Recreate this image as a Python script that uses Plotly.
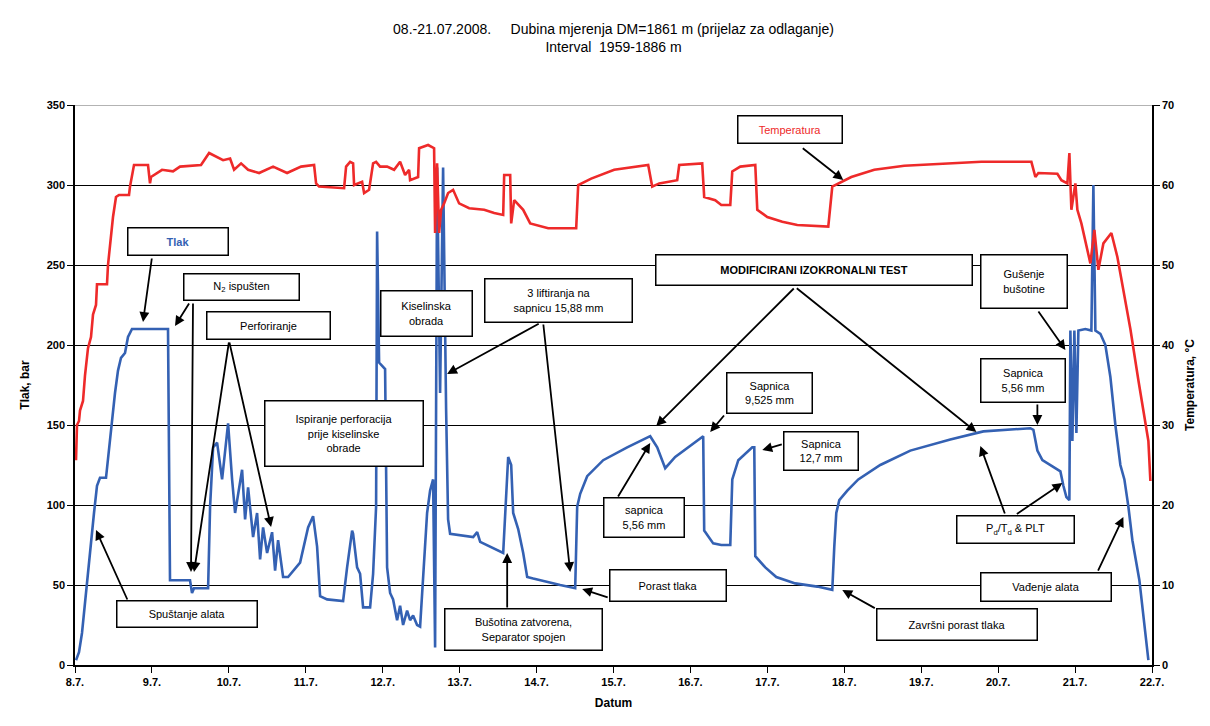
import plotly.graph_objects as go

# ---- data: time in days since 8.7.2008 00:00 ----
datum_oznake = ["8.7.", "9.7.", "10.7.", "11.7.", "12.7.", "13.7.", "14.7.", "15.7.",
                "16.7.", "17.7.", "18.7.", "19.7.", "20.7.", "21.7.", "22.7."]

tlak_dan = [0.013, 0.052, 0.091, 0.130, 0.169, 0.208, 0.247, 0.286, 0.325, 0.403, 0.442, 0.481,
            0.520, 0.559, 0.598, 0.650, 0.689, 0.741, 1.209, 1.235, 1.495, 1.521, 1.547, 1.730,
            1.756, 1.795, 1.847, 1.912, 1.990, 2.042, 2.081, 2.172, 2.211, 2.250, 2.315, 2.367,
            2.406, 2.445, 2.497, 2.562, 2.601, 2.640, 2.705, 2.770, 2.926, 3.030, 3.095, 3.147,
            3.186, 3.277, 3.485, 3.537, 3.602, 3.615, 3.667, 3.706, 3.745, 3.836, 3.875, 3.914,
            3.927, 3.953, 4.031, 4.057, 4.096, 4.135, 4.187, 4.226, 4.265, 4.317, 4.356, 4.395,
            4.447, 4.486, 4.577, 4.616, 4.655, 4.681, 4.707, 4.746, 4.785, 4.824, 4.850, 4.876,
            5.176, 5.228, 5.267, 5.566, 5.605, 5.631, 5.670, 5.696, 5.761, 5.826, 5.878, 5.956,
            6.307, 6.502, 6.528, 6.567, 6.658, 6.866, 7.178, 7.477, 7.568, 7.672, 7.802, 7.997,
            8.166, 8.179, 8.296, 8.401, 8.518, 8.544, 8.622, 8.804, 8.830, 8.843, 8.973, 9.116,
            9.363, 9.649, 9.844, 9.870, 9.896, 9.935, 10.039, 10.182, 10.468, 10.858, 11.378,
            11.808, 12.419, 12.458, 12.510, 12.575, 12.705, 12.809, 12.848, 12.887, 12.926,
            12.939, 12.965, 12.991, 13.017, 13.043, 13.134, 13.212, 13.238, 13.264, 13.329,
            13.394, 13.459, 13.524, 13.589, 13.641, 13.693, 13.745, 13.836, 13.914, 13.953]
tlak_bar = [3, 8, 20, 40, 60, 78, 95, 112, 117, 117, 135, 155,
            170, 184, 192, 195, 205, 210, 210, 53, 53, 45, 48, 48,
            99, 136, 139, 116, 151, 116, 95, 122, 91, 111, 80, 95,
            66, 86, 70, 83, 59, 78, 55, 55, 64, 86, 93, 74,
            43, 41, 40, 61, 84, 82, 61, 57, 36, 36, 57, 99,
            271, 189, 185, 61, 45, 41, 28, 37, 25, 34, 28, 31,
            25, 24, 95, 109, 116, 11, 311, 170, 311, 160, 91, 82,
            80, 83, 77, 70, 110, 130, 125, 95, 85, 70, 55, 54,
            50, 48, 99, 107, 118, 128, 136, 143, 136, 123, 130, 137,
            143, 84, 76, 75, 75, 116, 128, 136, 136, 68, 61, 55,
            51, 49, 47, 74, 95, 103, 109, 116, 125, 134, 141,
            146, 148, 147, 134, 128, 124, 121, 112, 105, 103,
            209, 140, 209, 145, 209, 210, 209, 300, 209, 207,
            200, 180, 150, 125, 116, 99, 78, 53, 22, 3]

temp_dan = [0.013, 0.026, 0.052, 0.065, 0.104, 0.130, 0.169, 0.208, 0.234, 0.273, 0.286, 0.416,
            0.429, 0.468, 0.494, 0.533, 0.572, 0.702, 0.715, 0.767, 0.949, 0.975, 0.988, 1.131,
            1.274, 1.365, 1.638, 1.743, 1.834, 1.925, 2.016, 2.068, 2.159, 2.250, 2.393, 2.575,
            2.757, 2.939, 3.108, 3.134, 3.173, 3.498, 3.524, 3.576, 3.615, 3.628, 3.732, 3.758,
            3.823, 3.875, 3.914, 3.966, 4.057, 4.148, 4.226, 4.291, 4.343, 4.356, 4.460, 4.473,
            4.590, 4.668, 4.681, 4.707, 4.733, 4.759, 4.798, 4.850, 4.915, 4.993, 5.124, 5.319,
            5.449, 5.566, 5.579, 5.657, 5.670, 5.709, 5.826, 5.917, 6.151, 6.515, 6.541, 6.710,
            7.009, 7.451, 7.503, 7.594, 7.828, 7.854, 8.153, 8.179, 8.322, 8.401, 8.518, 8.544,
            8.648, 8.843, 8.869, 8.999, 9.194, 9.389, 9.792, 9.844, 10.091, 10.390, 10.780,
            11.287, 11.782, 12.432, 12.484, 12.523, 12.770, 12.822, 12.900, 12.926, 12.952,
            13.004, 13.030, 13.082, 13.147, 13.199, 13.251, 13.303, 13.368, 13.472, 13.550,
            13.654, 13.719, 13.823, 13.914, 13.953, 13.979]
temp_c = [25.6, 30.0, 30.5, 31.8, 33.0, 36.2, 39.6, 41.0, 43.8, 45.0, 47.6, 47.6,
          50.0, 54.0, 56.0, 58.5, 58.75, 58.75, 59.8, 62.5, 62.5, 60.2, 61.0, 61.9,
          61.7, 62.3, 62.5, 64.0, 63.5, 63.1, 63.3, 61.9, 62.7, 61.9, 61.5, 62.3,
          61.5, 62.3, 62.5, 60.2, 59.8, 59.6, 62.3, 62.9, 62.7, 60.0, 60.4, 59.0,
          59.4, 62.7, 62.9, 62.3, 62.3, 61.9, 62.9, 61.25, 61.9, 60.6, 61.0, 64.6,
          65.0, 64.6, 54.0, 62.7, 54.0, 56.9, 57.7, 59.0, 59.4, 57.7, 57.1, 56.9,
          56.5, 56.25, 61.25, 61.25, 55.2, 58.1, 56.9, 55.2, 54.6, 54.6, 60.0, 60.8,
          61.9, 62.5, 59.8, 60.2, 60.6, 62.5, 62.7, 58.5, 58.1, 57.5, 57.5, 61.7,
          62.3, 62.5, 56.9, 56.0, 55.4, 55.0, 54.8, 59.8, 61.0, 61.9, 62.4,
          62.7, 62.9, 62.9, 61.0, 61.5, 61.4, 60.6, 60.2, 64.0, 56.9,
          60.2, 56.9, 55.2, 52.3, 50.2, 54.4, 49.4, 52.7, 54.0, 51.0,
          45.6, 42.0, 35.6, 30.6, 28.0, 23.0]

PLAVA = "#3461B3"
CRVENA = "#EE2A2A"
FONT = "Liberation Sans, Arial, sans-serif"

fig = go.Figure()
fig.add_trace(go.Scatter(x=tlak_dan, y=tlak_bar, mode="lines", name="Tlak",
                         line=dict(color=PLAVA, width=2.6), yaxis="y"))
fig.add_trace(go.Scatter(x=temp_dan, y=temp_c, mode="lines", name="Temperatura",
                         line=dict(color=CRVENA, width=2.6), yaxis="y2"))

# ---- labelled boxes: (text, centre day, centre bar, width px, height px, colour, bold) ----
okviri = [
    ("Temperatura", 9.291, 335.0, 103, 26, CRVENA, False),
    ("Tlak", 1.333, 265.0, 99, 26, PLAVA, True),
    ("N<sub>2</sub> ispušten", 2.159, 236.0, 114, 25, "black", False),
    ("Perforiranje", 2.510, 212.0, 122, 26, "black", False),
    ("Ispiranje perforacija<br>prije kiselinske<br>obrade", 3.491, 144.4, 157, 64, "black", False),
    ("Kiselinska<br>obrada", 4.564, 219.4, 90, 44, "black", False),
    ("3 liftiranja na<br>sapnicu 15,88 mm", 6.281, 228.0, 146, 42, "black", False),
    ("MODIFICIRANI IZOKRONALNI TEST", 9.603, 246.6, 315, 29, "black", True),
    ("Gušenje<br>bušotine", 12.334, 239.4, 85, 52, "black", False),
    ("Sapnica<br>9,525 mm", 9.025, 169.7, 84, 39, "black", False),
    ("Sapnica<br>5,56 mm", 12.321, 178.0, 83, 42, "black", False),
    ("Sapnica<br>12,7 mm", 9.694, 134.0, 73, 37, "black", False),
    ("sapnica<br>5,56 mm", 7.393, 91.9, 79, 38, "black", False),
    ("Porast tlaka", 7.705, 50.0, 115, 30, "black", False),
    ("Završni porast tlaka", 11.463, 25.6, 159, 30, "black", False),
    ("P<sub>d</sub>/T<sub>d</sub> &amp; PLT", 12.224, 85.0, 116, 26, "black", False),
    ("Vađenje alata", 12.620, 49.0, 129, 27, "black", False),
    ("Spuštanje alata", 1.450, 31.6, 139, 25, "black", False),
    ("Bušotina zatvorena,<br>Separator spojen", 5.826, 21.9, 156, 40, "black", False),
]

# ---- pointer arrows: (tail day, tail bar, tip day, tip bar) ----
strelice = [
    (9.441, 323.75, 9.987, 303.1),
    (1.001, 255.0, 0.884, 214.4),
    (1.495, 226.9, 1.300, 211.9),
    (1.534, 226.9, 1.508, 58.1),
    (2.003, 202.5, 1.547, 58.1),
    (2.003, 202.5, 2.549, 86.25),
    (6.047, 213.75, 4.837, 181.9),
    (6.086, 213.75, 6.437, 58.1),
    (9.363, 236.25, 7.555, 149.4),
    (9.363, 236.25, 11.717, 145.6),
    (12.510, 221.9, 12.874, 196.9),
    (8.453, 156.9, 8.257, 145.6),
    (12.510, 163.75, 12.510, 150.0),
    (9.207, 138.1, 8.934, 134.4),
    (7.048, 104.4, 7.477, 138.75),
    (6.944, 41.9, 6.593, 47.5),
    (10.416, 35.0, 9.974, 46.9),
    (12.094, 93.75, 11.769, 136.9),
    (12.224, 93.75, 12.835, 113.75),
    (13.290, 58.1, 13.628, 92.5),
    (0.689, 40.0, 0.273, 84.4),
    (5.618, 35.0, 5.618, 70.0),
]

annotations = []
for tx, ty, x, y in strelice:
    annotations.append(dict(x=x, y=y, xref="x", yref="y", ax=tx, ay=ty, axref="x", ayref="y",
                            text="", showarrow=True, arrowhead=2, arrowsize=1.1,
                            arrowwidth=1.8, arrowcolor="black"))
for tekst, cx, cy, w, h, boja, bold in okviri:
    annotations.append(dict(x=cx, y=cy, xref="x", yref="y", text=tekst, showarrow=False,
                            width=w, height=h, align="center", valign="middle",
                            bgcolor="white", bordercolor="black", borderwidth=1.5, borderpad=0,
                            font=dict(family=FONT, size=11, color=boja,
                                      weight="bold" if bold else "normal")))

fig.update_layout(
    width=1210, height=726,
    margin=dict(l=75, r=58, t=105, b=61, autoexpand=False),
    paper_bgcolor="white", plot_bgcolor="white",
    showlegend=False,
    font=dict(family=FONT, size=11, color="black"),
    title=dict(text="08.-21.07.2008.     Dubina mjerenja DM=1861 m (prijelaz za odlaganje)<br>"
                    "Interval  1959-1886 m",
               x=0.5, xanchor="center", xref="paper",
               y=1 - 34 / 726, yanchor="middle", yref="container",
               font=dict(family=FONT, size=14, color="black")),
    xaxis=dict(range=[0, 14], tickvals=list(range(len(datum_oznake))), ticktext=datum_oznake,
               showgrid=False, zeroline=False, showline=True, linecolor="black", linewidth=1.5,
               ticks="outside", ticklen=6, tickcolor="black",
               tickfont=dict(family=FONT, size=11, weight="bold"),
               title=dict(text="Datum", standoff=12,
                          font=dict(family=FONT, size=12, weight="bold"))),
    yaxis=dict(range=[0, 350], dtick=50, showgrid=True, gridcolor="black", gridwidth=1,
               zeroline=False, showline=True, linecolor="black", linewidth=1.5,
               ticks="outside", ticklen=6, tickcolor="black",
               tickfont=dict(family=FONT, size=11, weight="bold"),
               title=dict(text="Tlak, bar", standoff=14,
                          font=dict(family=FONT, size=12, weight="bold"))),
    yaxis2=dict(range=[0, 70], dtick=10, overlaying="y", side="right", showgrid=False,
                zeroline=False, showline=True, linecolor="black", linewidth=1.5,
                ticks="outside", ticklen=6, tickcolor="black",
                tickfont=dict(family=FONT, size=11, weight="bold"),
                title=dict(text="Temperatura, °C", standoff=12,
                           font=dict(family=FONT, size=12, weight="bold"))),
    annotations=annotations,
    shapes=[dict(type="line", xref="paper", yref="y", x0=0, x1=1, y0=350, y1=350,
                 line=dict(color="#9a9a9a", width=1.5), layer="above")],
)

fig.write_html("out.html")
